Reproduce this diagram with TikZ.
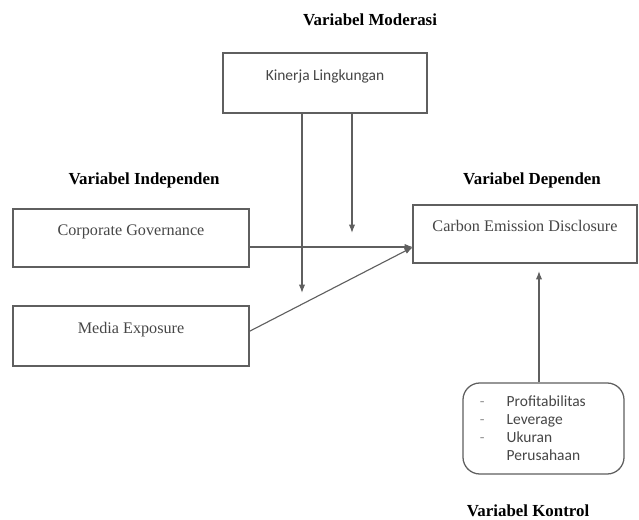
\documentclass[tikz,border=0pt]{standalone}
\usepackage{fontspec}
\setmainfont{Liberation Serif}
\newfontfamily\calibri{Carlito}
\usetikzlibrary{positioning,calc}
\usetikzlibrary{arrows.meta}
\definecolor{LineGray}{RGB}{95,95,95}
\definecolor{TextGray}{RGB}{70,70,70}
\definecolor{DashGray}{RGB}{150,150,150}
\tikzset{
	box/.style={draw=LineGray,line width=0.9pt,fill=white,inner sep=0pt,text=TextGray,
		text height=8pt,text depth=12pt,font=\fontsize{11.5}{13}\selectfont},
	kontrol/.style={draw=LineGray,line width=0.9pt,fill=white,rounded corners=12pt,text=TextGray,
		inner xsep=0.425cm,inner ysep=0pt,text width=3.175cm,align=left,
		font=\calibri\fontsize{11}{12.8}\selectfont},
	head/.style={font=\fontsize{12}{14}\selectfont\bfseries},
	link/.style={draw=LineGray,line width=0.8pt,-{Latex[length=6pt,width=4.5pt]}},
}

\begin{document}
\begin{tikzpicture}[x=0.025cm,y=-0.025cm]
			\useasboundingbox (0,0) rectangle (639,520);
			\node[box,minimum width=5.1cm,minimum height=1.5cm,font=\calibri\fontsize{11}{13}\selectfont] (kin) at (325,83) {Kinerja Lingkungan};
			\node[box,minimum width=5.9cm,minimum height=1.45cm] (cg) at (131,238) {Corporate Governance};
			\node[box,minimum width=5.9cm,minimum height=1.5cm] (me) at (131,336) {Media Exposure};
			\node[box,minimum width=5.6cm,minimum height=1.45cm] (ced) at (525,234) {Carbon Emission Disclosure};
			\node[kontrol,minimum width=4.025cm,minimum height=2.275cm] (ctl) at (543.5,428.5)
				{\textcolor{DashGray}{\makebox[19pt][l]{-}}Profitabilitas\\
				\textcolor{DashGray}{\makebox[19pt][l]{-}}Leverage\\
				\textcolor{DashGray}{\makebox[19pt][l]{-}}Ukuran\\
				\hspace*{19pt}Perusahaan};
			\node[head] (hmod) at (370,20) {Variabel Moderasi};
			\node[head] (hind) at (144,180) {Variabel Independen};
			\node[head] (hdep) at (532,180) {Variabel Dependen};
			\node[head] (hkon) at (528,511) {Variabel Kontrol};
			\coordinate (m1) at (302,293);
			\coordinate (m2) at (352,233);
			\coordinate (hit) at (413,247);
			\coordinate (kt) at (539,271);
			\foreach \c in {m1,m2}
			\draw[link] (kin.south -| \c) -- (\c);
			\draw[link] (cg.east |- hit) -- (hit);
			\draw[link] ([yshift=1.2mm]me.east) -- (hit);
			\draw[link] (ctl.north -| kt) -- (kt);
		\end{tikzpicture}
\end{document}
